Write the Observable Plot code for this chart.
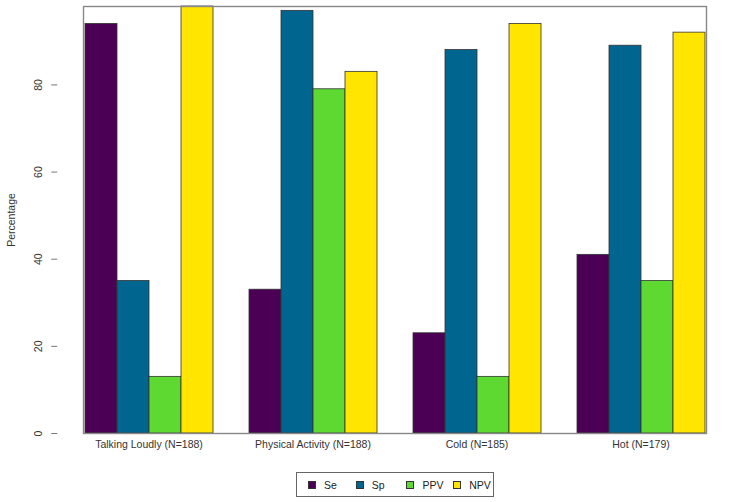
<!DOCTYPE html>
<html>
<head>
<meta charset="utf-8">
<script src="https://cdn.jsdelivr.net/npm/d3@7"></script>
<script src="https://cdn.jsdelivr.net/npm/@observablehq/plot@0.6"></script>
<style>
  html, body { margin: 0; padding: 0; background: #fff; }
  body { width: 740px; height: 502px; overflow: hidden; font-family: "Liberation Sans", Arial, sans-serif; }
  #legend {
    position: absolute; left: 296px; top: 472px; width: 196px; height: 23px;
    border: 1px solid #666; box-sizing: content-box;
    display: flex; align-items: center; font-size: 10.5px; color: #222;
  }
  #legend .item { display: flex; align-items: center; }
  #legend .sw { width: 6px; height: 6px; border: 0.8px solid #333; margin-right: 8px; }
</style>
</head>
<body>
<div id="chart"></div>
<div id="legend"></div>
<script>
const categories = ["Talking Loudly (N=188)", "Physical Activity (N=188)", "Cold (N=185)", "Hot (N=179)"];
const metrics = ["Se", "Sp", "PPV", "NPV"];
const seValues  = [94, 33, 23, 41];
const spValues  = [35, 97, 88, 89];
const ppvValues = [13, 79, 13, 35];
const npvValues = [98, 83, 94, 92];
const colors = ["#4B0055", "#00658F", "#5DD932", "#FFE500"];
const yTicks = [0, 20, 40, 60, 80];

const series = [seValues, spValues, ppvValues, npvValues];
const data = [];
categories.forEach((c, i) => {
  metrics.forEach((m, j) => data.push({category: c, metric: m, value: series[j][i]}));
});

const W = 740, ML = 56, MR = 6;
const padIn = 0.2, padOut = 0.156;
// offset from first facet's left edge back to the frame's left edge
const step = (W - ML - MR) / (categories.length - padIn + 2 * padOut);
const axisShift = -padOut * step;

const chart = Plot.plot({
  width: W,
  height: 455,
  marginTop: 6,
  marginBottom: 22,
  marginLeft: ML,
  marginRight: MR,
  style: {fontFamily: "'Liberation Sans', Arial, sans-serif", fontSize: "10.5px", color: "#333", background: "#fff"},
  fx: {domain: categories, paddingInner: padIn, paddingOuter: padOut, label: null},
  x: {domain: metrics, padding: 0, axis: null},
  y: {domain: [0, 98], label: null},
  color: {domain: metrics, range: colors},
  marks: [
    Plot.barY(data, {fx: "category", x: "metric", y: "value", fill: "metric", stroke: "#333", strokeWidth: 0.8}),
    Plot.axisFx({anchor: "bottom", tickSize: 0, tickPadding: 7, label: null}),
    Plot.axisY({ticks: yTicks, tickSize: 6, tickPadding: 10, tickRotate: -90, stroke: "#777", dx: axisShift, label: "Percentage", labelAnchor: "center", labelOffset: 76, labelArrow: "none"}),
    Plot.frame({facet: "super", stroke: "#888", strokeWidth: 1.4})
  ]
});
document.getElementById("chart").appendChild(chart);

const legend = d3.select("#legend");
const widths = [48, 51, 47, 40];
metrics.forEach((m, i) => {
  const it = legend.append("div").attr("class", "item").style("width", widths[i] + "px").style("margin-left", i === 0 ? "11px" : "0px");
  it.append("div").attr("class", "sw").style("background", colors[i]);
  it.append("span").text(m);
});
</script>
</body>
</html>
